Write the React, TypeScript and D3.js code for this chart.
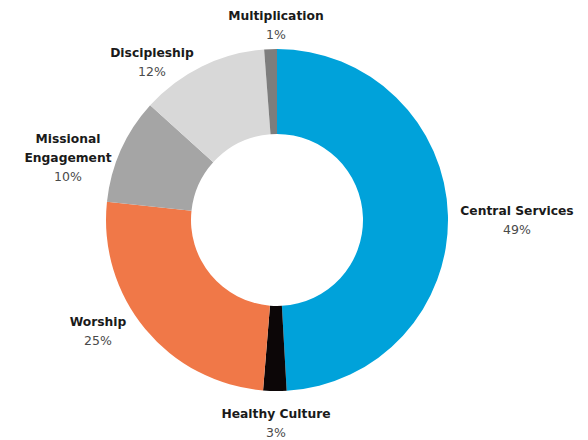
import React from "react";
import * as d3 from "d3";

const categories = ["Central Services", "Healthy Culture", "Worship", "Missional Engagement", "Discipleship", "Multiplication"];
const values = [49.1, 2.2, 25.4, 10.0, 12.1, 1.2];
const percentLabels = ["49%", "3%", "25%", "10%", "12%", "1%"];
const colors = ["#00A2DA", "#0C0607", "#F07848", "#A5A5A5", "#D8D8D8", "#7D7D7D"];
const labelLines = [["Central Services"], ["Healthy Culture"], ["Worship"], ["Missional", "Engagement"], ["Discipleship"], ["Multiplication"]];
// label anchor positions (layout)
const labelPos: [number, number][] = [[517, 215], [276, 418], [98, 326], [68, 143], [152, 57], [276, 20]];

const W = 588, H = 440;
const cx = 277, cy = 220, R = 171, r = 86;

export default function App() {
  const pie = d3.pie<number>().value((d) => d).sort(null);
  const arcs = pie(values);
  const arcGen = d3.arc<d3.PieArcDatum<number>>().innerRadius(r).outerRadius(R);
  return (
    <svg width={W} height={H} style={{ position: "absolute", left: 0, top: 0, background: "#fff" }}>
      <g transform={`translate(${cx},${cy})`}>
        {arcs.map((a, i) => (
          <path key={i} d={arcGen(a) || ""} fill={colors[i]} />
        ))}
      </g>
      {categories.map((c, i) => {
        const [x, y] = labelPos[i];
        const lines = labelLines[i];
        return (
          <g key={c} fontFamily="'DejaVu Sans', sans-serif" textAnchor="middle">
            {lines.map((l, j) => (
              <text key={j} x={x} y={y + j * 19} fontSize={12.3} fontWeight="bold" fill="#1a1a1a">{l}</text>
            ))}
            <text x={x} y={y + lines.length * 19} fontSize={12.5} fill="#4a4a4a">{percentLabels[i]}</text>
          </g>
        );
      })}
    </svg>
  );
}
